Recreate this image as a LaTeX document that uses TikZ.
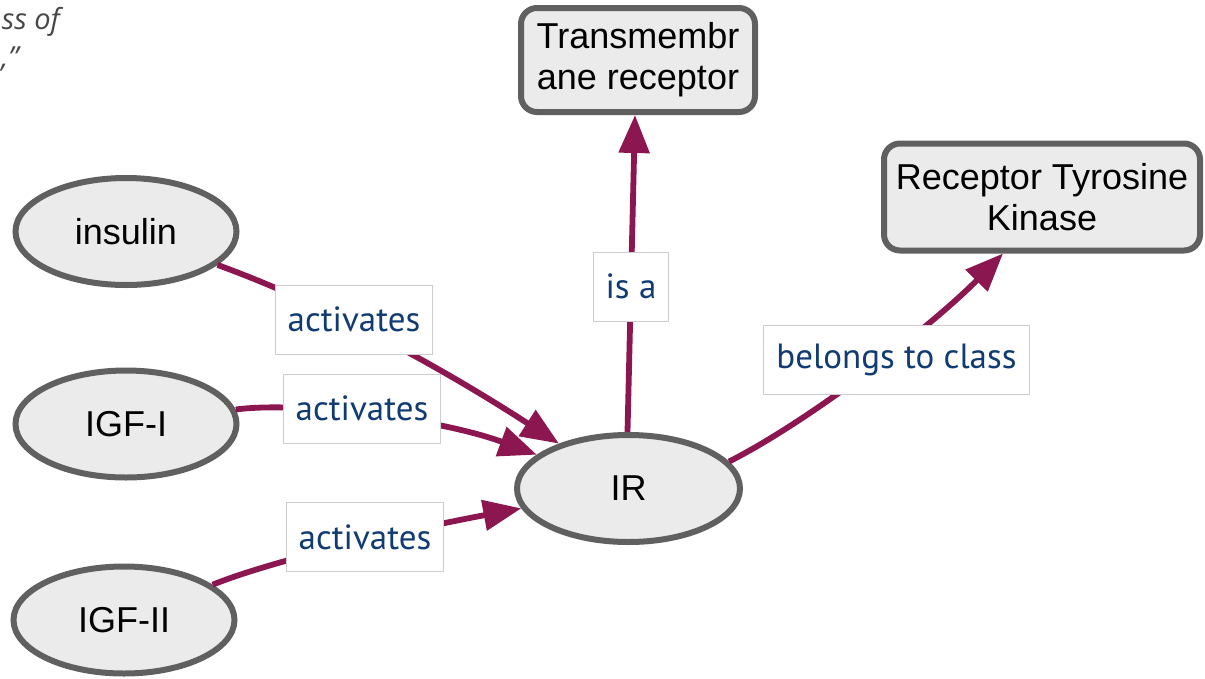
\documentclass[tikz,border=0pt]{standalone}
\usepackage{fontspec}
\usetikzlibrary{arrows.meta,shapes.geometric,calc}
\newfontfamily\nodefont{Liberation Sans}
\newfontfamily\labfont{PT Sans}
\newfontfamily\notefont{Open Sans}
\definecolor{edgec}{RGB}{140,22,80}
\definecolor{bordc}{RGB}{96,96,96}
\definecolor{fillc}{RGB}{235,235,235}
\definecolor{labc}{RGB}{16,60,115}
\definecolor{labborder}{RGB}{205,205,205}
\tikzset{
  ell/.style={ellipse, draw=bordc, line width=6pt, fill=fillc, minimum width=221pt, minimum height=107pt, inner sep=0pt, font=\nodefont\fontsize{36}{41}\selectfont},
  rbox/.style={rectangle, rounded corners=16pt, draw=bordc, line width=6pt, fill=fillc, inner sep=0pt, align=center, font=\nodefont\fontsize{36}{41}\selectfont},
  lbl/.style={rectangle, draw=labborder, line width=1pt, fill=white, text=labc, inner xsep=12.5pt, inner ysep=0pt, minimum height=69pt, font=\labfont\fontsize{35}{40}\selectfont},
  edge/.style={draw=edgec, line width=5.8pt, -{Triangle[length=38pt,width=30pt]}},
  note/.style={inner sep=0pt, text=black!72, font=\notefont\itshape\fontsize{29}{34}\selectfont},
}
\begin{document}
\begin{tikzpicture}[x=1pt,y=-1pt]
\useasboundingbox (0,0) rectangle (1205,678);
% top-left fragment
\node[note, anchor=base east] (note1) at (60,29) {ss of};
\node[note, anchor=base west] (note2) at (1,67) {,”};
% nodes
\node[rbox, minimum width=234pt, minimum height=104pt] (tm) at (638,60) {Transmembr\\ane receptor};
\node[rbox, minimum width=316pt, minimum height=107pt] (rtk) at (1042,197) {Receptor Tyrosine\\Kinase};
\node[ell] (ins) at (126,231.5) {insulin};
\node[ell] (igf1) at (126,424) {IGF-I};
\node[ell] (igf2) at (124,620) {IGF-II};
\node[ell, minimum width=223pt, minimum height=107pt] (ir) at (628.5,488.5) {IR};
% label positions
\coordinate (c1) at (354,319.5);
\coordinate (c2) at (362,408.5);
\coordinate (c3) at (365,537);
\coordinate (c4) at (631,286.5);
\coordinate (c5) at (896.5,360);
% edges
\draw[edge] (ins) .. controls (330,306) and (442,368) .. (ir);
\draw[edge] (igf1) .. controls (300,401) and (440,419) .. (ir);
\draw[edge] (igf2) .. controls (287,555) and (437,524) .. (ir);
\draw[edge] ($(ir.north)+(-1,0)$) -- ($(tm.south)+(-3,0)$);
\draw[edge] (ir.15) .. controls (820,415) and (940,318) .. ($(rtk.south)+(-39,0)$);
% labels
\node[lbl] (l1) at (c1) {activates};
\node[lbl] (l2) at (c2) {activates};
\node[lbl] (l3) at (c3) {activates};
\node[lbl] (l4) at (c4) {is a};
\node[lbl] (l5) at (c5) {belongs to class};
\end{tikzpicture}
\end{document}
